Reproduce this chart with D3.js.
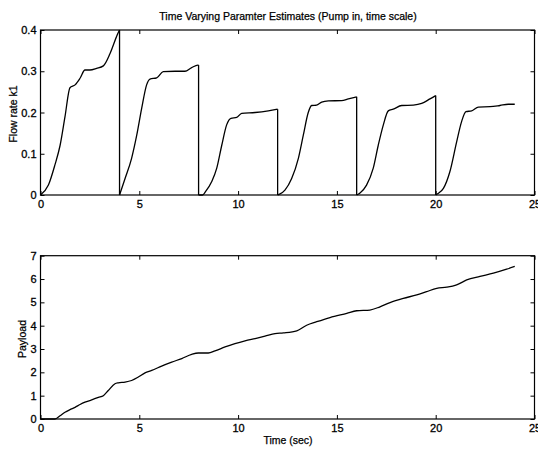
<!DOCTYPE html>
<html>
<head>
<meta charset="utf-8">
<script src="https://cdn.jsdelivr.net/npm/d3@7"></script>
<style>
body { margin: 0; background: #fff; }
text { font-family: "Liberation Sans", Arial, sans-serif; fill: #000; }
.axis path { display: none; }
.axis line { stroke: #000; stroke-width: 1; }
.axis text { font-size: 11px; stroke: #000; stroke-width: 0.3; }
.frame { fill: none; stroke: #000; stroke-width: 1.2; }
.line { fill: none; stroke: #000; stroke-width: 1.3; }
.label { font-size: 10.5px; stroke: #000; stroke-width: 0.25; }
</style>
</head>
<body>
<div id="chart"></div>
<script>
// flow rate estimate, drops back to 0 every 4 s
var flowT = [0, 0.4, 0.73, 0.99, 1.24, 1.49, 1.75, 2.0, 2.25, 2.5, 2.84, 3.18, 3.52, 3.9, 4.0,
    4.0, 4.28, 4.61, 4.87, 5.12, 5.37, 5.54, 5.88, 6.21, 6.81, 7.31, 7.65, 7.96, 8.0,
    8.0, 8.2, 8.35, 8.66, 8.92, 9.17, 9.42, 9.64, 9.93, 10.18, 10.86, 11.53, 12.0,
    12.0, 12.1, 12.37, 12.71, 13.05, 13.3, 13.55, 13.72, 13.97, 14.23, 14.57, 15.24, 15.58, 16.0,
    16.0, 16.17, 16.5, 16.84, 17.09, 17.35, 17.6, 17.85, 18.28, 18.87, 19.29, 19.71, 20.0,
    20.0, 20.1, 20.39, 20.72, 21.06, 21.31, 21.53, 21.82, 22.16, 22.75, 23.25, 23.67, 24.0];
var flowK = [0, 0.024, 0.073, 0.12, 0.19, 0.26, 0.267, 0.283, 0.303, 0.303, 0.307, 0.313, 0.343, 0.39, 0.4,
    0, 0.04, 0.089, 0.145, 0.21, 0.267, 0.281, 0.284, 0.299, 0.30, 0.30, 0.309, 0.315, 0.315,
    0, 0, 0.008, 0.032, 0.065, 0.12, 0.17, 0.186, 0.188, 0.198, 0.20, 0.204, 0.208,
    0, 0.002, 0.012, 0.04, 0.089, 0.145, 0.2, 0.217, 0.218, 0.225, 0.228, 0.229, 0.233, 0.238,
    0, 0.005, 0.024, 0.065, 0.12, 0.17, 0.204, 0.208, 0.217, 0.218, 0.222, 0.233, 0.241,
    0, 0.003, 0.016, 0.057, 0.129, 0.178, 0.202, 0.204, 0.213, 0.214, 0.217, 0.22, 0.22];

var payT = [0, 0.73, 0.99, 1.24, 1.49, 1.75, 2.0, 2.25, 2.59, 2.93, 3.18, 3.43, 3.77, 3.94, 4.28,
    4.61, 4.95, 5.29, 5.63, 6.13, 6.64, 7.15, 7.65, 7.99, 8.49, 8.83, 9.34, 9.84, 10.35, 10.86,
    11.36, 11.87, 12.29, 12.97, 13.47, 13.98, 14.65, 15.5, 16.0, 16.67, 17.18, 17.69, 18.36,
    19.04, 19.54, 20.05, 20.56, 21.06, 21.57, 22.24, 22.92, 23.59, 24.0];
var payV = [0, 0, 0.14, 0.29, 0.4, 0.5, 0.62, 0.72, 0.82, 0.93, 1.0, 1.22, 1.51, 1.55, 1.58,
    1.65, 1.8, 1.98, 2.08, 2.27, 2.44, 2.59, 2.77, 2.83, 2.83, 2.92, 3.09, 3.23, 3.35, 3.45,
    3.55, 3.66, 3.69, 3.78, 4.02, 4.17, 4.35, 4.53, 4.64, 4.67, 4.81, 4.99, 5.17,
    5.32, 5.46, 5.6, 5.65, 5.75, 5.96, 6.11, 6.25, 6.42, 6.54];

var xTicks = [0, 5, 10, 15, 20, 25];
var flowTicks = [0, 0.1, 0.2, 0.3, 0.4];
var payTicks = [0, 1, 2, 3, 4, 5, 6, 7];

function init(){

    var w = 538;
    var h = 449;
    var left = 40.5, right = 534.5;

    var svg = d3.select("#chart")
                .append("svg")
                .attr("width", w)
                .attr("height", h);

    var xScale = d3.scaleLinear()
                .domain([0, 25])
                .range([left, right]);

    function panel(top, bottom, xs, ys, yMax, yTicks, yLabel, yLabelX, yLabelY)
    {
        var yScale = d3.scaleLinear()
                .domain([0, yMax])
                .range([bottom, top]);

        // split into runs where time keeps increasing; equal times are the resets
        var runs = [[]], drops = [];
        xs.forEach(function(x, i) {
            var p = {x: x, y: ys[i]};
            if (i > 0 && x === xs[i - 1]) {
                drops.push([{x: xs[i - 1], y: ys[i - 1]}, p]);
                runs.push([]);
            }
            runs[runs.length - 1].push(p);
        });

        var smooth = d3.line()
                .curve(d3.curveMonotoneX)
                .x(function(d) { return xScale(d.x); })
                .y(function(d) { return yScale(d.y); });
        var straight = d3.line()
                .x(function(d) { return xScale(d.x); })
                .y(function(d) { return yScale(d.y); });

        // ticks pointing inward on all four sides
        svg.append("g")
            .attr("class", "axis")
            .attr("transform", "translate(0," + bottom + ")")
            .call(d3.axisBottom(xScale).tickValues(xTicks).tickSize(-4).tickPadding(5).tickFormat(d3.format("d")));
        svg.append("g")
            .attr("class", "axis")
            .attr("transform", "translate(0," + top + ")")
            .call(d3.axisTop(xScale).tickValues(xTicks).tickSize(-4).tickFormat(""));
        svg.append("g")
            .attr("class", "axis")
            .attr("transform", "translate(" + left + ",0)")
            .call(d3.axisLeft(yScale).tickValues(yTicks).tickSize(-4).tickPadding(4).tickFormat(function(d) { return String(d); }));
        svg.append("g")
            .attr("class", "axis")
            .attr("transform", "translate(" + right + ",0)")
            .call(d3.axisRight(yScale).tickValues(yTicks).tickSize(-4).tickFormat(""));

        svg.append("rect")
            .attr("class", "frame")
            .attr("x", left)
            .attr("y", top)
            .attr("width", right - left)
            .attr("height", bottom - top);

        svg.selectAll(null)
            .data(runs)
            .enter()
            .append("path")
            .attr("class", "line")
            .attr("d", smooth);

        svg.selectAll(null)
            .data(drops)
            .enter()
            .append("path")
            .attr("class", "line")
            .attr("d", straight);

        svg.append("text")
            .attr("class", "label")
            .attr("transform", "translate(" + yLabelX + "," + yLabelY + ") rotate(-90)")
            .attr("text-anchor", "middle")
            .text(yLabel);
    }

    panel(30, 195, flowT, flowK, 0.4, flowTicks, "Flow rate k1", 16.5, 114);
    panel(255.7, 419, payT, payV, 7, payTicks, "Payload", 26, 339);

    svg.append("text")
        .attr("class", "label")
        .attr("x", 288)
        .attr("y", 20)
        .attr("text-anchor", "middle")
        .text("Time Varying Paramter Estimates (Pump in, time scale)");

    svg.append("text")
        .attr("class", "label")
        .attr("x", 288)
        .attr("y", 444)
        .attr("text-anchor", "middle")
        .text("Time (sec)");
}
window.onload = init;
</script>
</body>
</html>
